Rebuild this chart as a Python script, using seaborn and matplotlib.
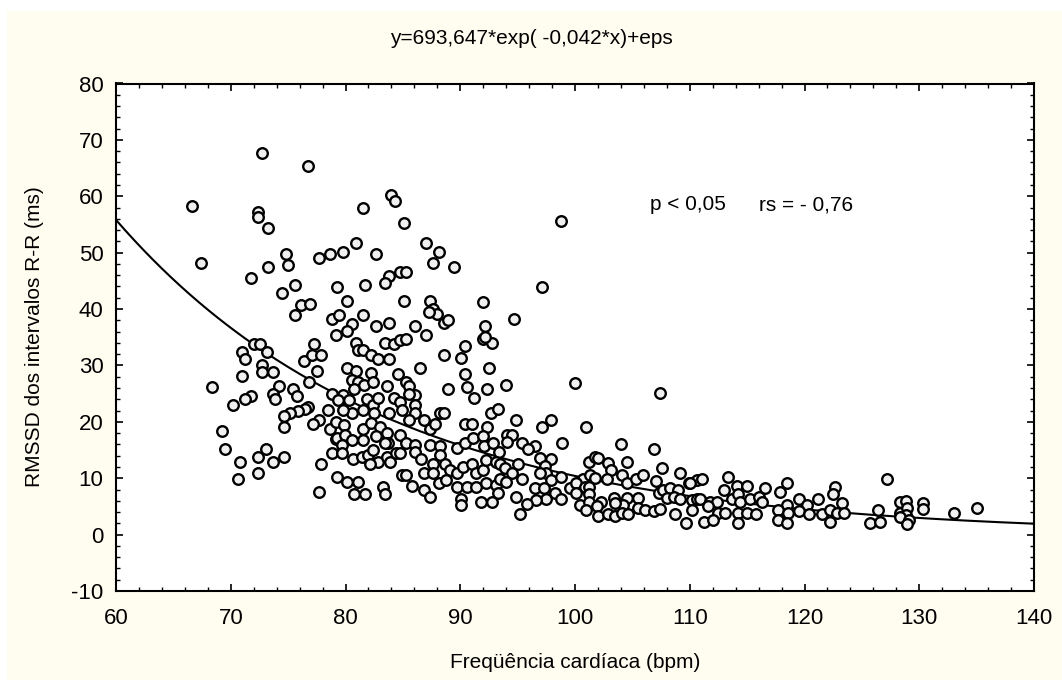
import numpy as np
import pandas as pd
import matplotlib
matplotlib.use("Agg")
import matplotlib.pyplot as plt
import seaborn as sns
from matplotlib.patches import Rectangle
from matplotlib.ticker import MultipleLocator

# Heart rate (bpm) and RMSSD (ms)
hr = [
    # upper-left
    72.7, 76.7, 66.6, 72.35, 72.35, 73.25, 67.4, 74.8, 75.0, 73.25, 77.7, 78.65, 79.8, 71.8, 75.6, 74.5, 79.3, 76.15, 76.9,
    # 66-80 bpm
    75.6, 78.8, 79.4, 79.2, 77.25, 72.05, 72.55, 73.2, 71.0, 71.2, 76.4, 77.1, 77.9, 72.75, 72.75, 73.65, 77.55, 71.0, 76.8,
    68.4, 74.2, 75.45, 73.65, 73.86, 75.8, 71.8, 71.2, 78.8, 70.2, 76.76, 76.5, 75.9, 75.2, 74.6, 74.6, 78.5, 77.7, 77.2,
    78.65, 79.2, 79.2, 69.24, 69.5, 73.1, 72.4, 70.8, 73.65, 74.6, 78.8, 77.9, 72.4, 70.6, 77.7, 79.3,
    # 80-92 bpm high
    83.96, 84.3, 81.5, 85.1, 80.9, 82.66, 87.0, 88.15, 87.6, 89.45, 84.75, 85.3, 83.8, 83.4, 81.7, 80.1, 85.1, 87.4, 92.0,
    # 80-94 bpm mid
    81.5, 87.65, 88.0, 87.3, 88.6, 88.95, 80.6, 80.1, 82.66, 83.8, 86.1, 87.0, 92.2, 92.0, 92.8, 92.2, 83.4, 84.25, 84.75,
    85.3, 80.9, 81.1, 81.5, 82.25, 82.85, 83.8, 90.4, 88.6, 90.05, 80.1, 80.9, 82.25, 84.6, 86.5, 90.4, 92.5, 80.6, 81.1,
    81.6, 82.4, 80.7, 83.6, 85.3, 85.5, 86.1, 88.9, 90.6, 91.2, 92.3, 94.0, 79.8, 79.35, 80.3, 81.9, 82.4, 82.8, 84.2,
    84.75, 84.9, 85.5, 86.1, 86.1, 83.8, 82.5, 81.55, 80.6, 79.8, 85.5, 86.8, 87.4, 87.8, 88.2, 88.6, 90.4, 91.0, 92.7,
    93.3, 92.3, 79.9, 81.55, 82.25, 83.0, 83.6,
    # 79-94 bpm low
    79.23, 79.96, 79.67, 80.55, 81.55, 79.67, 82.7, 83.7, 83.4, 84.75, 85.3, 86.05, 86.05, 87.36, 88.2, 89.7, 90.4, 91.1,
    91.97, 92.1, 92.84, 93.42,
    80.68, 81.4, 82.0, 82.4, 82.86, 82.1, 83.6, 83.85, 84.4, 84.75, 86.6, 87.65, 88.2, 88.65, 89.1, 89.7, 90.26, 91.0,
    91.4, 91.97, 92.26, 93.1,
    80.1, 81.1, 80.74, 81.7, 83.3, 83.4, 84.9, 85.3, 85.8, 86.87, 86.85, 87.36, 87.65, 88.17, 88.8, 89.7, 90.55, 91.4,
    92.26, 93.1, 93.28, 90.1, 90.1, 91.8, 92.8,
    # isolated
    97.1, 94.7, 100.0, 107.4, 98.8,
    # 93-111 bpm
    94.86, 97.9, 97.1, 100.96, 94.05, 94.5, 94.05, 95.4, 96.5, 98.9, 104.0, 106.9, 95.9, 96.95, 97.9, 101.2, 101.7, 102.0,
    102.9, 104.5, 107.6, 109.15, 93.5, 93.9, 95.06, 94.5, 97.4, 97.5, 103.1, 93.5, 94.0, 95.4, 96.95, 97.95, 98.8, 100.7,
    101.3, 101.7, 102.75, 104.1, 104.5, 105.3, 105.95, 107.06, 109.9, 110.6, 96.5, 97.3, 99.56, 100.1, 100.9, 101.25,
    98.3, 98.8, 97.5, 96.6, 95.8, 94.86, 100.1, 101.2, 100.4, 101.2, 102.3, 101.9, 103.4, 104.5, 105.5, 104.2, 103.5,
    107.3, 107.7, 108.3, 109.0, 110.0, 110.2, 110.6, 108.0, 108.6, 109.15, 95.2, 100.96, 102.0, 102.9, 103.5, 104.1,
    104.6, 105.5, 106.1, 106.9, 107.4, 108.7, 110.2, 109.7,
    # 110-127 bpm
    111.1, 113.35, 127.2, 113.0, 114.1, 114.95, 116.6, 118.5, 117.9, 122.7, 122.5, 110.9, 111.75, 112.35, 113.65, 114.2,
    114.4, 115.25, 116.0, 116.3, 119.5, 121.2, 123.3, 120.2, 118.5, 111.6, 112.5, 113.07, 114.2, 114.95, 115.8, 117.7,
    118.6, 119.5, 120.4, 121.5, 122.2, 122.8, 123.4, 126.4, 111.2, 112.05, 114.2, 117.7, 118.45, 122.2, 125.7, 126.6,
    # 128-136 bpm
    128.3, 128.85, 128.3, 128.96, 128.85, 128.3, 129.1, 128.96, 130.35, 130.35, 133.0, 135.06,
]
rmssd = [
    67.6, 65.3, 58.2, 57.3, 56.3, 54.4, 48.1, 49.8, 47.8, 47.5, 49.0, 49.7, 50.1, 45.5, 44.3, 42.8, 43.9, 40.7, 40.9,
    38.9, 38.2, 38.9, 35.4, 33.8, 33.8, 33.8, 32.3, 32.3, 31.1, 30.8, 31.9, 31.9, 30.1, 28.8, 28.8, 29.1, 28.1, 27.1,
    26.1, 26.4, 25.8, 24.9, 24.05, 24.5, 24.5, 24.1, 24.9, 22.9, 22.6, 22.2, 21.9, 21.5, 21.0, 19.0, 22.1, 20.4, 19.6,
    18.7, 20.0, 16.9, 18.4, 15.1, 15.1, 13.8, 12.8, 12.8, 13.8, 14.4, 12.5, 10.9, 9.8, 7.5, 10.3,
    60.2, 59.2, 57.9, 55.2, 51.7, 49.7, 51.7, 50.1, 48.1, 47.5, 46.6, 46.6, 45.9, 44.7, 44.3, 41.5, 41.5, 41.5, 41.2,
    38.9, 40.0, 39.2, 39.5, 37.6, 38.1, 37.3, 36.1, 37.0, 37.6, 37.0, 35.35, 37.0, 34.7, 33.9, 35.1, 33.9, 33.75, 34.5,
    34.7, 33.9, 32.7, 32.7, 31.85, 31.1, 31.1, 33.4, 31.85, 31.4, 29.5, 29.0, 28.6, 28.5, 29.5, 28.5, 29.5, 27.4, 27.0,
    26.5, 27.1, 25.9, 26.4, 27.0, 26.4, 24.8, 25.8, 26.1, 24.2, 25.8, 26.5, 24.8, 23.9, 23.9, 24.0, 23.0, 24.2, 24.2,
    23.6, 22.1, 24.9, 23.0, 21.5, 21.5, 21.5, 22.1, 21.5, 22.1, 20.3, 20.4, 18.8, 19.6, 21.5, 21.5, 19.6, 19.6, 21.5,
    22.3, 19.15, 19.4, 18.8, 19.8, 19.15, 18.0,
    17.1, 17.66, 15.9, 16.8, 16.8, 14.5, 17.4, 16.3, 16.3, 17.66, 16.3, 15.9, 14.7, 15.9, 15.7, 15.3, 16.3, 17.1,
    17.4, 15.7, 16.2, 14.7,
    13.35, 13.8, 14.1, 15.0, 12.9, 12.6, 13.8, 12.9, 14.4, 14.4, 13.35, 12.6, 14.1, 12.6, 11.45, 10.87, 12.0, 12.6,
    10.87, 11.45, 13.2, 12.9,
    9.4, 9.4, 7.2, 7.2, 8.5, 7.2, 10.6, 10.6, 8.6, 10.87, 7.9, 6.7, 10.87, 9.2, 9.7, 8.5, 8.5, 8.5,
    9.2, 8.8, 7.3, 6.4, 5.25, 5.7, 5.7,
    43.9, 38.2, 26.8, 25.2, 55.6,
    20.3, 20.3, 19.0, 19.0, 17.66, 17.66, 16.5, 16.2, 15.7, 16.3, 16.1, 15.1, 15.1, 13.6, 13.35, 12.9, 13.8, 13.6,
    12.76, 12.9, 11.75, 10.9, 12.5, 11.9, 12.6, 11.0, 12.2, 10.87, 11.45, 9.8, 9.4, 9.8, 10.87, 9.7, 10.2, 9.8,
    10.6, 10.0, 9.8, 10.6, 9.2, 9.8, 10.6, 9.56, 9.1, 9.7, 8.2, 8.2, 8.2, 9.1, 8.5, 8.5,
    7.3, 6.4, 6.4, 6.1, 5.5, 6.7, 7.3, 7.2, 5.25, 5.7, 5.8, 5.0, 6.5, 6.5, 6.5, 5.25, 5.55,
    7.3, 7.9, 8.2, 7.9, 9.1, 6.1, 6.4, 6.5, 6.7, 6.4, 3.65, 4.37, 3.3, 3.65, 3.3, 3.9,
    3.65, 4.67, 4.37, 4.25, 4.5, 3.65, 4.37, 2.0,
    9.8, 10.3, 9.8, 7.9, 8.6, 8.6, 8.3, 9.1, 7.5, 8.4, 7.2, 6.4, 5.8, 5.8, 6.3, 7.2,
    5.8, 6.3, 6.7, 5.8, 6.3, 6.3, 5.55, 5.25, 5.25, 5.0, 3.8, 3.8, 3.9, 3.9, 3.65, 4.37,
    3.9, 4.25, 3.65, 3.65, 4.37, 3.8, 3.9, 4.37, 2.3, 2.6, 2.0, 2.6, 2.0, 2.3, 2.0, 2.3,
    5.7, 6.0, 3.9, 4.67, 3.5, 3.07, 2.6, 1.9, 5.55, 4.5, 3.9, 4.67,
]

# Fitted model shown in the title: y = A * exp(B * x)
A_COEF = 693.647
B_COEF = -0.042
X_RANGE = [60, 140]

title_text = "y=693,647*exp( -0,042*x)+eps"
x_label = "Freqüência cardíaca (bpm)"
y_label = "RMSSD dos intervalos R-R (ms)"
p_text = "p < 0,05"
rs_text = "rs = - 0,76"

sns.set_theme(style="white")
plt.rcParams['font.family'] = ['Liberation Sans', 'DejaVu Sans']
plt.rcParams['axes.unicode_minus'] = False

fig = plt.figure(figsize=(10.62, 6.80), dpi=100, facecolor='white')
fig.patches.append(Rectangle((7 / 1062, 0), 1 - 7 / 1062, 1 - 11 / 680,
                             transform=fig.transFigure, facecolor='#fffcf0',
                             edgecolor='none', zorder=-10))
ax = fig.add_axes([116 / 1062, 1 - 591 / 680, 918 / 1062, 507.5 / 680])
ax.set_facecolor('white')

df = pd.DataFrame({'hr': hr, 'rmssd': rmssd})
xs = np.linspace(X_RANGE[0], X_RANGE[1], 400)
fit = pd.DataFrame({'x': xs, 'y': A_COEF * np.exp(B_COEF * xs)})

sns.lineplot(data=fit, x='x', y='y', color='black', linewidth=1.5, ax=ax, zorder=2)
sns.scatterplot(data=df, x='hr', y='rmssd', s=58, color='#f0f0f0', edgecolor='black',
                linewidth=1.7, ax=ax, zorder=3)

ax.set_xlim(60, 140)
ax.set_ylim(-10, 80)
ax.xaxis.set_major_locator(MultipleLocator(10))
ax.xaxis.set_minor_locator(MultipleLocator(2))
ax.yaxis.set_major_locator(MultipleLocator(10))
ax.yaxis.set_minor_locator(MultipleLocator(2))
ax.tick_params(which='both', direction='in', top=True, right=True, bottom=True, left=True, color='black')
ax.tick_params(which='major', length=5, width=1.2, labelsize=16, labelcolor='black')
ax.tick_params(axis='x', which='major', pad=12)
ax.tick_params(axis='y', which='major', pad=9)
ax.tick_params(which='minor', length=3, width=1.0)
for sp in ax.spines.values():
    sp.set_color('black')
    sp.set_linewidth(1.5)

ax.set_xlabel('')
ax.set_ylabel('')
fig.text(575 / 1062, 1 - 662 / 680, x_label, ha='center', va='center', fontsize=15, color='black')
fig.text(35 / 1062, 1 - 337 / 680, y_label, ha='center', va='center', rotation=90, fontsize=15, color='black')
fig.text(0.5, 1 - 38 / 680, title_text, ha='center', va='center', fontsize=15, color='black')

ax.text(106.5, 58.5, p_text, ha='left', va='center', fontsize=15, color='black')
ax.text(116.0, 58.5, rs_text, ha='left', va='center', fontsize=15, color='black')

fig.savefig('out.png', dpi=100, facecolor=fig.get_facecolor())
